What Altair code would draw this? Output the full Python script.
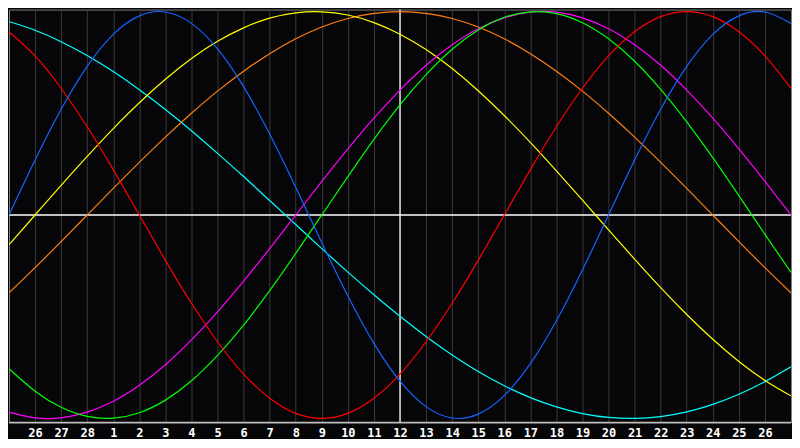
import json
import altair as alt
import pandas as pd

# days relative to "today" (day 12), one sample per day
days_rel = list(range(-15, 16))
# labels under the grid lines (t = -14 .. 14)
tick_days = list(range(-14, 15))
day_labels = ["26", "27", "28"] + [str(d) for d in range(1, 27)]

# cycle values (percent), t = -15 .. 15
physical = [0, 27.0, 52.0, 73.1, 88.8, 97.9, 99.8, 94.2, 81.7, 63.1, 39.8, 13.6,
            -13.6, -39.8, -63.1, -81.7, -94.2, -99.8, -97.9, -88.8, -73.1, -52.0,
            -27.0, 0, 27.0, 52.0, 73.1, 88.8, 97.9, 99.8, 94.2]
emotional = [90.1, 78.2, 62.3, 43.4, 22.3, 0, -22.3, -43.4, -62.3, -78.2, -90.1,
             -97.5, -100, -97.5, -90.1, -78.2, -62.3, -43.4, -22.3, 0, 22.3, 43.4,
             62.3, 78.2, 90.1, 97.5, 100, 97.5, 90.1, 78.2, 62.3]
intellectual = [-75.6, -86.6, -94.5, -99.0, -99.9, -97.2, -91.0, -81.5, -69.0, -54.1,
                -37.2, -18.9, 0, 18.9, 37.2, 54.1, 69.0, 81.5, 91.0, 97.2, 99.9, 99.0,
                94.5, 86.6, 75.6, 61.8, 45.8, 28.2, 9.5, -9.5, -28.2]
intuitive = [-96.9, -99.7, -99.7, -96.9, -91.6, -83.7, -73.6, -61.4, -47.6, -32.5,
             -16.5, 0, 16.5, 32.5, 47.6, 61.4, 73.6, 83.7, 91.6, 96.9, 99.7, 99.7,
             96.9, 91.6, 83.7, 73.6, 61.4, 47.6, 32.5, 16.5, 0]
aesthetic = [-14.6, 0, 14.6, 28.8, 42.5, 55.2, 66.7, 76.9, 85.4, 92.0, 96.8, 99.4,
             99.9, 98.3, 94.6, 88.9, 81.3, 72.0, 61.1, 48.9, 35.7, 21.7, 7.3, -7.3,
             -21.7, -35.7, -48.9, -61.1, -72.0, -81.3, -88.9]
awareness = [-38.3, -25.9, -13.1, 0, 13.1, 25.9, 38.3, 50.0, 60.9, 70.7, 79.3, 86.6,
             92.4, 96.6, 99.1, 100, 99.1, 96.6, 92.4, 86.6, 79.3, 70.7, 60.9, 50.0,
             38.3, 25.9, 13.1, 0, -13.1, -25.9, -38.3]
spiritual = [95.1, 90.8, 85.2, 78.4, 70.5, 61.6, 51.9, 41.4, 30.3, 18.9, 7.1, -4.7,
             -16.5, -28.1, -39.2, -49.8, -59.7, -68.8, -76.9, -83.9, -89.8, -94.3,
             -97.6, -99.5, -100.0, -99.1, -96.8, -93.1, -88.1, -81.9, -74.6]

series_names = ["Spiritual", "Awareness", "Aesthetic", "Intuitive",
                "Intellectual", "Emotional", "Physical"]
series_values = [spiritual, awareness, aesthetic, intuitive,
                 intellectual, emotional, physical]
series_colors = ["#00ffff", "#ff8010", "#ffff00", "#ff00ff",
                 "#00ff00", "#ff0000", "#1464ff"]

rows = []
for name, vals in zip(series_names, series_values):
    for t, v in zip(days_rel, vals):
        rows.append({"t": t, "v": v, "series": name})
df = pd.DataFrame(rows)

W, H = 784, 414
Y_MIN, Y_MAX = -102, 101
xscale = alt.Scale(domain=[-15, 15], nice=False, zero=False)
yscale = alt.Scale(domain=[Y_MIN, Y_MAX], nice=False, zero=False)

label_expr = json.dumps(day_labels) + "[datum.value + 14]"

xaxis = alt.Axis(values=tick_days, labelExpr=label_expr, grid=True,
                 gridColor="#3a3a3a", gridWidth=1, domain=False, ticks=False,
                 labelColor="#ffffff", labelFont="DejaVu Sans Mono",
                 labelFontWeight="bold", labelFontSize=12, labelPadding=5,
                 labelOverlap=False, labelFlush=False, labelBound=False,
                 title=None)

lines = alt.Chart(df).mark_line(interpolate="natural", strokeWidth=1.2, clip=True).encode(
    x=alt.X("t:Q", scale=xscale, axis=xaxis),
    y=alt.Y("v:Q", scale=yscale, axis=None),
    color=alt.Color("series:N", scale=alt.Scale(domain=series_names, range=series_colors),
                    legend=None),
    detail="series:N",
)

ref_df = pd.DataFrame({"z": [0], "b": [Y_MIN]})
hline = alt.Chart(ref_df).mark_rule(color="#ffffff", strokeWidth=1.3).encode(
    y=alt.Y("z:Q", scale=yscale, axis=None))
vline = alt.Chart(ref_df).mark_rule(color="#ffffff", strokeWidth=1.3).encode(
    x=alt.X("z:Q", scale=xscale, axis=xaxis))
bottom = alt.Chart(ref_df).mark_rule(color="#c0c0c0", strokeWidth=1.3).encode(
    y=alt.Y("b:Q", scale=yscale, axis=None))

chart = alt.layer(hline, vline, lines, bottom).properties(
    width=W, height=H, background="#060609", padding=0
).configure_view(stroke="#808080", strokeWidth=1)

chart.save("out.html", embed_options={"renderer": "svg", "actions": False})
